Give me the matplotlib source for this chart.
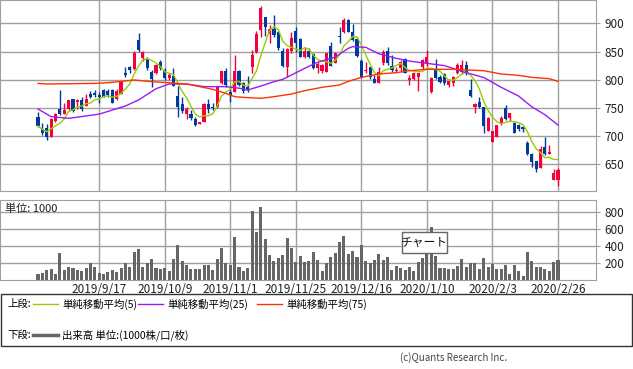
import numpy as np
import pandas as pd
import matplotlib
matplotlib.use("Agg")
import matplotlib.pyplot as plt
from matplotlib.patches import Rectangle
from matplotlib.lines import Line2D

plt.rcParams['font.family'] = ['Noto Sans CJK JP', 'DejaVu Sans']

# daily prices (trading-day index 0..119)
opens = [733.3, 713.2, 713.8, 699, 727.4, 748.6, 739.2, 748.6, 765.2, 760.5,
         764, 753.4, 774.6, 775.8, 772.3, 781.7, 780.5, 781.7, 766.4, 774.6,
         812.5, 821.9, 819.5, 870.4, 838, 836, 814.2, 812.5, 831.4, 817.2,
         802.4, 806.5, 771, 756.9, 739.2, 739.2, 730.3, 721.4, 724.4, 756.9,
         752.2, 751, 793.5, 816, 778.8, 778.8, 816, 793.5, 786.5, 823.1,
         849.7, 888, 910.6, 881, 889.3, 885, 851.5, 823, 851.5, 886.3,
         871.6, 840.8, 851.5, 845.6, 820, 816, 814.2, 859.7, 829, 877.5,
         885.2, 905.8, 885.2, 871.6, 833.7, 815, 823, 801.8, 794.7, 829,
         851.5, 824.3, 815.5, 820, 836, 799.5, 800.6, 804.2, 823, 829,
         778.8, 817.2, 805.4, 810, 790.6, 794.7, 811.3, 814.2, 826, 781.7,
         752.2, 761, 751, 709.6, 690.1, 699, 722.6, 749.2, 731.5, 723.8,
         719.7, 716.7, 688.3, 668.3, 655.3, 642.9, 681.3, 668.3, 622.2, 622.2]
closes = [717.9, 706, 699, 729.7, 739.2, 739.2, 746.3, 764, 743.9, 764,
          748.6, 766.4, 769.9, 773.5, 769.9, 769.9, 773.5, 759.3, 780.5, 796.5,
          809, 817.2, 846.7, 852.7, 849.7, 820, 801.2, 826, 820, 802.4,
          808.3, 788.8, 751, 744.5, 747.5, 732.7, 719.7, 724.4, 756.9, 747.5,
          749.2, 786.5, 816, 790.6, 772.9, 816, 790.6, 780.5, 782.3, 843.8,
          881, 927, 894, 889.3, 879.2, 855.6, 824.9, 853.8, 873.3, 864.5,
          840.8, 851.5, 839.6, 820, 827.8, 826, 846.7, 824.9, 846.7, 875.1,
          905.8, 885.2, 870.4, 842, 805.4, 817, 804.2, 794.7, 814.2, 849.7,
          829, 817.2, 817, 832, 812.5, 802.4, 812.5, 811.3, 834.9, 839.6,
          802.4, 802.4, 796.5, 794.7, 798.3, 804.2, 826, 826, 812.5, 771,
          757, 751, 717.9, 731.5, 709.6, 719.7, 731.5, 729.7, 740.4, 706,
          712, 712, 668.3, 654.7, 641.1, 676.5, 668.3, 672.4, 635.2, 640]
highs = [743.3, 722.6, 721.4, 731.5, 740.4, 781.7, 758.1, 764, 766.4, 766.4,
         768.7, 774.6, 779.4, 781.7, 778.2, 782.9, 783, 783, 783, 798,
         823.1, 824.3, 851.5, 882.2, 851.5, 839.6, 817.2, 827.8, 835, 820,
         811.3, 820, 788.8, 769.9, 751, 746.3, 734.5, 725.6, 758.1, 766.4,
         758.1, 786.5, 816, 820, 786.5, 843.8, 817, 796.5, 806.5, 852.7,
         887, 930.7, 911.8, 897, 914.7, 887, 855.6, 855.6, 884, 894,
         873.3, 858.6, 855.6, 846.7, 832, 827.8, 847.9, 866.8, 849.7, 894,
         908.8, 907, 898.8, 875.1, 836, 832, 823, 807.7, 823, 852.7,
         858.6, 843.8, 823, 835, 837.9, 808.3, 814.2, 812.5, 837, 852.7,
         804.2, 836, 808.3, 811.3, 800.6, 806.5, 829, 835, 833, 801.2,
         758, 768.7, 752.2, 734.5, 709.6, 719.7, 735.6, 755.1, 741.5, 725,
         721.4, 718, 691.9, 670.6, 656.4, 682.4, 697.8, 684.2, 641, 642.9]
lows = [715.5, 702, 693.1, 699, 725.6, 737.4, 739.2, 746, 742.7, 747.5,
        745, 753.4, 767, 769.9, 759.3, 768.7, 770, 759.3, 764, 774.6,
        804.2, 812.5, 817.2, 849.7, 833.7, 817.2, 787.7, 810, 817.2, 799.5,
        799.5, 788.8, 734.5, 740.4, 729.7, 728.5, 717.9, 721, 724.4, 740.4,
        746, 749.2, 792.4, 786.5, 761, 778.8, 789, 777, 778.8, 812.5,
        846.7, 876.3, 877.5, 864.5, 876.3, 852.7, 823, 805.4, 846.7, 849.7,
        839.6, 837.9, 837.9, 818.4, 811.3, 812.5, 814.2, 824.9, 829, 864.5,
        882.2, 885.2, 869.2, 840.8, 802.4, 812.5, 800.6, 793.5, 794.7, 826,
        825.5, 814.2, 814, 814.2, 811.3, 790.6, 799.5, 780.5, 818, 825,
        777, 800.6, 793.5, 790.6, 787.7, 789, 810, 810, 808.3, 769.9,
        741.5, 749, 706, 709.6, 690.1, 697.8, 719.7, 728.5, 727, 706,
        709.6, 707.8, 666.5, 645.8, 637, 642.9, 666.5, 668.3, 622, 612.1]
volume = [71, 83, 118, 130, 71, 319, 118, 154, 142, 118,
          106, 142, 197, 154, 83, 71, 95, 118, 95, 142,
          197, 154, 331, 367, 154, 197, 248, 142, 130, 142,
          106, 248, 414, 225, 177, 130, 130, 130, 177, 177,
          118, 248, 379, 197, 177, 509, 154, 106, 142, 817,
          568, 864, 485, 296, 225, 260, 296, 497, 379, 213,
          284, 213, 225, 331, 237, 106, 197, 272, 319, 449,
          521, 308, 343, 272, 414, 225, 197, 237, 308, 237,
          272, 118, 166, 142, 118, 154, 106, 213, 260, 319,
          627, 284, 142, 142, 130, 130, 166, 248, 154, 201,
          201, 130, 260, 154, 189, 130, 130, 177, 71, 177,
          106, 47, 331, 225, 154, 154, 130, 106, 213, 237]

# moving averages (25 and 75 need history before the window)
ma25_idx = [0, 3, 7, 14, 20, 23, 27, 30, 34, 38, 43, 46, 48, 51, 54, 56, 58, 61,
            64, 68, 71, 72, 75, 78, 82, 85, 89, 93, 95, 98, 102, 106, 110, 113, 116, 119]
ma25_val = [748, 734.5, 731.5, 739, 753.4, 764, 784, 792.4, 792.4, 787.7, 787.7, 785,
            781.7, 788.8, 796.5, 800.6, 808.3, 820, 831, 840, 855.6, 858.6, 857.4,
            846, 837.9, 833, 829, 825, 820, 812.5, 804, 786.5, 771, 752, 738, 719.7]
ma75_idx = [0, 2, 13, 16, 19, 22, 26, 30, 34, 37, 40, 43, 45, 47, 51, 54, 58, 61,
            65, 69, 71, 74, 78, 82, 85, 89, 95, 102, 106, 110, 113, 117, 119]
ma75_val = [793.5, 792.4, 793.5, 794.7, 797, 799.5, 796.5, 794.7, 792.4, 787.7, 783,
            775.8, 769.9, 768.7, 767, 769.9, 774.6, 780.5, 786.5, 790.6, 797, 804.2,
            810.1, 812.5, 816, 818.4, 818.4, 816, 810.1, 807.7, 804.2, 801.8, 797]

tick_idx = [14, 29, 44, 59, 74, 89, 104, 119]
tick_labels = ['2019/9/17', '2019/10/9', '2019/11/1', '2019/11/25',
               '2019/12/16', '2020/1/10', '2020/2/3', '2020/2/26']

UP = '#F5003D'
DOWN = '#003A9E'
GRID = '#A0A0A0'

o = np.array(opens); c = np.array(closes)
h = np.array(highs); l = np.array(lows)
x = np.arange(len(o))
ma5 = pd.Series(closes).rolling(5, min_periods=1).mean()

W, H = 633, 369
fig = plt.figure(figsize=(W / 100, H / 100), dpi=100)

ax = fig.add_axes([0, 1 - 191 / H, 596 / W, 191 / H])
axv = fig.add_axes([0, 1 - 280 / H, 596 / W, 80 / H])

for a in (ax, axv):
    a.set_xlim(-8.7, 127.7)
    a.set_xticks(tick_idx)
    a.grid(True, color=GRID, lw=1)
    a.set_axisbelow(True)
    for s in a.spines.values():
        s.set_color(GRID)
    a.yaxis.tick_right()
    a.tick_params(axis='y', length=3, color=GRID, labelsize=8.5, pad=3, labelcolor='#222222')
    a.tick_params(axis='x', length=0)

# candles
colors = np.where(c >= o, UP, DOWN)
ax.vlines(x, l, h, colors=colors, lw=1, zorder=3)
body = np.maximum(np.abs(c - o), 0.8)
ax.bar(x, body, bottom=np.minimum(o, c), width=0.72, color=colors, zorder=3, lw=0)

ax.plot(x, ma5, color='#99CC00', lw=1, zorder=4)
ax.plot(ma25_idx, ma25_val, color='#9A1BF5', lw=1, zorder=4)
ax.plot(ma75_idx, ma75_val, color='#FF3300', lw=1, zorder=4)

ax.set_ylim(602.7, 941.3)
ax.set_yticks([650, 700, 750, 800, 850, 900])
ax.set_xticklabels([])

axv.bar(x, volume, width=0.7, color='#666666', zorder=3)
axv.set_ylim(0, 946)
axv.set_yticks([200, 400, 600, 800])
axv.set_xticklabels(tick_labels, fontsize=8.5, color='#222222')
axv.tick_params(axis='x', pad=2)
axv.text(0.008, 0.89, '単位: 1000', transform=axv.transAxes, fontsize=8,
         va='center', ha='left', color='#222222')

# chart button overlay
fig.add_artist(Rectangle((402 / W, 1 - 253 / H), 45 / W, 21 / H, transform=fig.transFigure,
                         facecolor='white', edgecolor='#666666', lw=1, zorder=10))
fig.text(424.5 / W, 1 - 242.5 / H, 'チャート', fontsize=8.5, ha='center', va='center',
         zorder=11, color='#111111')

# legend box
fig.add_artist(Rectangle((1 / W, 1 - 346 / H), 631 / W, 52 / H, transform=fig.transFigure,
                         facecolor='none', edgecolor='#333333', lw=1))
y1 = 1 - 304 / H
y2 = 1 - 335 / H
fig.text(7 / W, y1, '上段:', fontsize=7.5, va='center')
fig.text(7 / W, y2, '下段:', fontsize=7.5, va='center')
items = [(33, '#99CC00', '単純移動平均(5)'), (138, '#9A1BF5', '単純移動平均(25)'),
         (257, '#FF3300', '単純移動平均(75)')]
for x0, col, lab in items:
    fig.add_artist(Line2D([x0 / W, (x0 + 25) / W], [y1, y1], color=col, lw=1,
                          transform=fig.transFigure))
    fig.text((x0 + 29) / W, y1, lab, fontsize=7.5, va='center')
fig.add_artist(Line2D([33 / W, 58 / W], [y2, y2], color='#666666', lw=2.5,
                      transform=fig.transFigure))
fig.text(62 / W, y2, '出来高 単位:(1000株/口/枚)', fontsize=7.5, va='center')

fig.text(507 / W, 1 - 358 / H, '(c)Quants Research Inc.', fontsize=7, ha='right',
         va='center', color='#444444')

fig.savefig('out.png', dpi=100)
